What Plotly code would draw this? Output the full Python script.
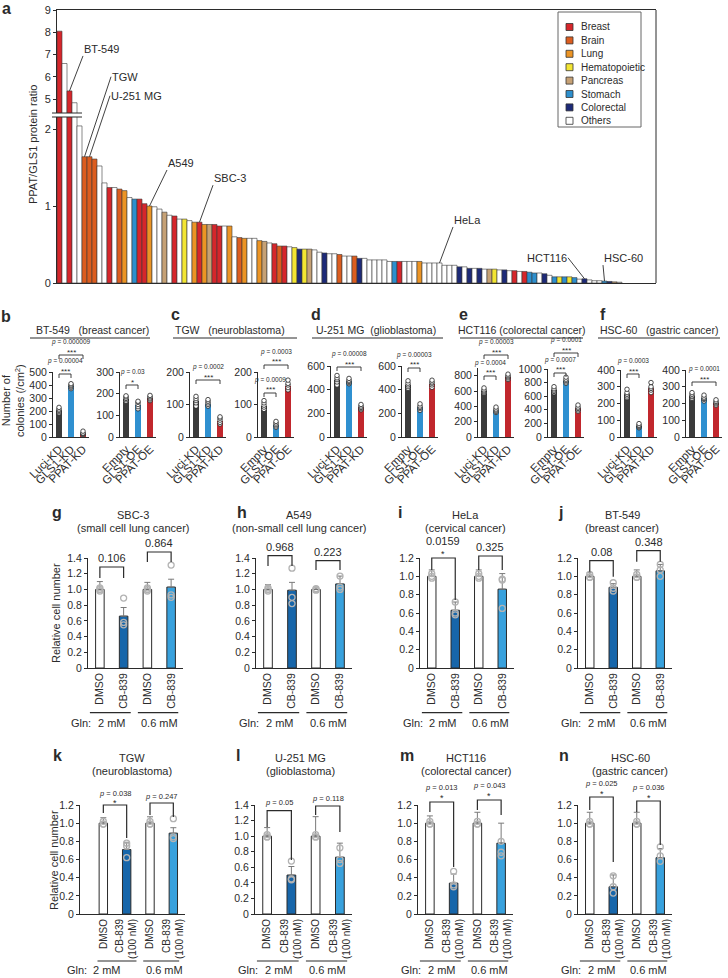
import plotly.graph_objects as go

W, H = 728, 978
FONT = "Liberation Sans, Arial, Helvetica, sans-serif"
INK = "#2b2b2b"
NB = "\u00a0"

# ======================= DATA =======================
# ---- panel a: PPAT/GLS1 ratio per cell line (sorted) ----
tissue_colors = {
    "Breast": "#d6262b", "Brain": "#dc5d1f", "Lung": "#ec9424", "Hematopoietic": "#f3e533",
    "Pancreas": "#c6a175", "Stomach": "#2d8fcd", "Colorectal": "#1d2a78", "Others": "#ffffff"}
legend_order = ["Breast", "Brain", "Lung", "Hematopoietic", "Pancreas", "Stomach", "Colorectal", "Others"]
code_name = {"Br": "Breast", "Bn": "Brain", "Lu": "Lung", "He": "Hematopoietic",
             "Pa": "Pancreas", "St": "Stomach", "Co": "Colorectal", "O": "Others"}
a_tissue = ["Br", "O", "Br", "O", "O", "Bn", "Bn", "Bn", "O", "O",
            "Br", "O", "Bn", "Lu", "O", "St", "Br", "Br", "Lu", "O",
            "O", "Pa", "O", "Br", "O", "He", "O", "Lu", "Br", "Lu",
            "Pa", "Br", "Br", "O", "Lu", "O", "Bn", "Lu", "O", "O",
            "Lu", "Pa", "O", "Br", "Bn", "Br", "O", "He", "Co", "He",
            "Pa", "O", "O", "Co", "O", "O", "Bn", "O", "O", "Bn",
            "Co", "O", "O", "O", "O", "O", "O", "St", "Br", "O",
            "O", "O", "Lu", "O", "O", "O", "O", "O", "O", "O",
            "Co", "O", "Co", "O", "Co", "O", "Pa", "He", "O", "Co",
            "O", "Br", "O", "Br", "St", "St", "O", "Co", "O", "St",
            "He", "St", "He", "St", "O", "Co", "O", "O", "O", "St",
            "Co", "Pa", "O"]
a_ratio = [8.05, 6.6, 5.37, 4.84, 2.04, 1.64, 1.64, 1.61, 1.52, 1.30,
           1.24, 1.24, 1.22, 1.20, 1.11, 1.09, 1.09, 1.03, 1.00, 0.99,
           0.96, 0.92, 0.88, 0.87, 0.83, 0.83, 0.81, 0.79, 0.79, 0.76,
           0.76, 0.76, 0.74, 0.74, 0.74, 0.60, 0.59, 0.58, 0.58, 0.58,
           0.55, 0.54, 0.52, 0.51, 0.48, 0.48, 0.47, 0.46, 0.44, 0.44,
           0.44, 0.43, 0.40, 0.39, 0.38, 0.38, 0.37, 0.35, 0.35, 0.35,
           0.32, 0.32, 0.30, 0.30, 0.30, 0.30, 0.28, 0.28, 0.28, 0.28,
           0.28, 0.28, 0.28, 0.26, 0.26, 0.26, 0.26, 0.23, 0.23, 0.23,
           0.21, 0.21, 0.19, 0.19, 0.19, 0.18, 0.18, 0.18, 0.17, 0.17,
           0.16, 0.16, 0.15, 0.15, 0.14, 0.13, 0.13, 0.12, 0.10, 0.08,
           0.08, 0.08, 0.08, 0.07, 0.05, 0.055, 0.04, 0.03, 0.03, 0.025,
           0.02, 0.015, 0.01]
a_callout_names = ["BT-549", "TGW", "U-251 MG", "A549", "SBC-3", "HeLa", "HCT116", "HSC-60"]
a_callout_index = [2, 5, 6, 18, 28, 76, 105, 109]
a_low_ticks = [0, 1, 2]
a_high_ticks = [5, 6, 7, 8, 9]

# ---- panels b-f: colony numbers ----
kd_labels = ["Luci-KD", "GLS1-KD", "PPAT-KD"]
oe_labels = ["Empty", "GLS1-OE", "PPAT-OE"]
b_kd_mean = [205, 390, 25];  b_kd_sd = [18, 15, 6]
b_kd_pts = [[185, 195, 205, 215, 228], [372, 383, 392, 400, 410], [18, 22, 26, 30, 45]]
b_oe_mean = [175, 148, 178]; b_oe_sd = [10, 12, 10]
b_oe_pts = [[165, 172, 178, 185, 190], [130, 140, 150, 160, 165], [168, 175, 180, 186, 192]]
c_kd_mean = [110, 103, 50];  c_kd_sd = [12, 8, 8]
c_kd_pts = [[95, 105, 112, 118, 125], [95, 100, 105, 110, 115], [40, 45, 52, 58, 62]]
c_oe_mean = [96, 38, 158];   c_oe_sd = [10, 6, 12]
c_oe_pts = [[85, 92, 98, 105, 112], [30, 34, 38, 43, 48], [145, 152, 160, 165, 175]]
d_kd_mean = [480, 470, 250]; d_kd_sd = [30, 20, 20]
d_kd_pts = [[440, 465, 485, 500, 520], [450, 460, 470, 480, 495], [230, 240, 250, 262, 275]]
d_oe_mean = [440, 250, 450]; d_oe_sd = [30, 25, 25]
d_oe_pts = [[410, 425, 440, 455, 475], [225, 240, 250, 262, 280], [420, 440, 455, 465, 480]]
e_kd_mean = [600, 350, 780]; e_kd_sd = [30, 25, 30]
e_kd_pts = [[570, 585, 600, 615, 640], [320, 335, 350, 365, 390], [750, 770, 785, 800, 820]]
e_oe_mean = [690, 830, 420]; e_oe_sd = [40, 40, 40]
e_oe_pts = [[650, 670, 690, 710, 740], [790, 810, 830, 850, 880], [380, 400, 420, 440, 470]]
f_kd_mean = [255, 65, 290];  f_kd_sd = [20, 8, 25]
f_kd_pts = [[235, 245, 255, 265, 285], [55, 60, 65, 70, 80], [265, 280, 290, 300, 325]]
f_oe_mean = [245, 230, 205]; f_oe_sd = [15, 15, 15]
f_oe_pts = [[230, 240, 245, 255, 265], [215, 225, 230, 238, 250], [190, 198, 205, 212, 222]]
colony_ymax = [500, 300, 200, 200, 600, 600, 900, 1000, 400, 400]
colony_ticks = [[0, 100, 200, 300, 400, 500], [0, 100, 200, 300], [0, 100, 200], [0, 100, 200],
                [0, 200, 400, 600], [0, 200, 400, 600], [0, 200, 400, 600, 800],
                [0, 200, 400, 600, 800, 1000], [0, 100, 200, 300, 400], [0, 100, 200, 300, 400]]
colony_titles = ["BT-549" + NB * 3 + "(breast cancer)", "TGW" + NB * 3 + "(neuroblastoma)",
                 "U-251 MG" + NB * 2 + "(glioblastoma)", "HCT116 (colorectal cancer)",
                 "HSC-60" + NB * 3 + "(gastric cancer)"]
# (subplot, i0, i1, p text, stars)
colony_sig = [(0, 0, 2, "0.000009", "***"), (0, 0, 1, "0.00004", "***"), (1, 0, 1, "0.03", "*"),
              (2, 0, 2, "0.0002", "***"), (3, 0, 2, "0.0003", "***"), (3, 0, 1, "0.0009", "***"),
              (4, 0, 2, "0.00008", "***"), (5, 0, 1, "0.00003", "***"),
              (6, 0, 2, "0.00003", "***"), (6, 0, 1, "0.0004", "***"),
              (7, 0, 2, "0.0001", "***"), (7, 0, 1, "0.0007", "***"),
              (8, 0, 1, "0.0003", "***"), (9, 0, 2, "0.0001", "***")]

# ---- panels g-n: relative cell number ----
cb_labels = ["DMSO", "CB-839", "DMSO", "CB-839"]
cb100_labels = ["DMSO", "CB-839<br>(100 nM)", "DMSO", "CB-839<br>(100 nM)"]
rel_ticks = [0, 0.2, 0.4, 0.6, 0.8, 1.0, 1.2, 1.4]
rel_ticktext = ["0", "0.2", "0.4", "0.6", "0.8", "1.0", "1.2", "1.4"]
g_mean = [1.0, 0.66, 1.0, 1.03]; g_sd = [0.10, 0.11, 0.09, 0.10]
g_pts = [[1.02, 0.98, 1.0], [0.89, 0.58, 0.55], [1.02, 0.98, 1.0], [1.31, 0.93, 0.90]]
h_mean = [1.0, 0.99, 1.0, 1.07]; h_sd = [0.06, 0.10, 0.02, 0.10]
h_pts = [[1.02, 0.98, 1.0], [1.27, 0.90, 0.82], [1.01, 0.99, 1.0], [1.17, 1.03, 1.0]]
i_mean = [1.0, 0.63, 1.0, 0.86]; i_sd = [0.07, 0.09, 0.07, 0.17]
i_pts = [[1.03, 0.98, 1.0], [0.72, 0.60, 0.58], [1.03, 0.98, 1.0], [0.96, 0.97, 0.65]]
j_mean = [1.0, 0.88, 1.0, 1.06]; j_sd = [0.04, 0.04, 0.07, 0.07]
j_pts = [[1.02, 0.99, 0.99], [0.93, 0.87, 0.84], [1.02, 0.99, 0.99], [1.13, 1.07, 1.0]]
k_mean = [1.0, 0.71, 1.0, 0.89]; k_sd = [0.06, 0.08, 0.07, 0.06]
k_pts = [[1.02, 0.99, 0.99], [0.78, 0.75, 0.62], [1.02, 0.99, 0.99], [1.05, 0.85, 0.83]]
l_mean = [1.0, 0.50, 1.0, 0.73]; l_sd = [0.11, 0.11, 0.25, 0.18]
l_pts = [[1.02, 0.99, 0.99], [0.68, 0.45, 0.44], [1.02, 0.99, 0.99], [0.85, 0.70, 0.65]]
m_mean = [1.0, 0.34, 1.0, 0.78]; m_sd = [0.08, 0.10, 0.12, 0.22]
m_pts = [[1.02, 0.99, 0.99], [0.47, 0.32, 0.30], [1.02, 0.99, 0.99], [0.80, 0.68, 0.64]]
n_mean = [1.0, 0.30, 1.0, 0.62]; n_sd = [0.12, 0.13, 0.12, 0.10]
n_pts = [[1.02, 0.99, 0.99], [0.42, 0.30, 0.23], [1.02, 0.99, 0.99], [0.74, 0.64, 0.58]]
cell_titles = [("SBC-3", "(small cell lung cancer)"), ("A549", "(non-small cell lung cancer)"),
               ("HeLa", "(cervical cancer)"), ("BT-549", "(breast cancer)"),
               ("TGW", "(neuroblastoma)"), ("U-251 MG", "(glioblastoma)"),
               ("HCT116", "(colorectal cancer)"), ("HSC-60", "(gastric cancer)")]
cell_ymax = [1.4, 1.4, 1.2, 1.2, 1.2, 1.4, 1.2, 1.2]
cell_p_g = [("0.106", "0.864"), ("0.968", "0.223"), ("0.0159", "0.325"), ("0.08", "0.348")]
cell_p_k = [("0.038", "0.247"), ("0.05", "0.118"), ("0.013", "0.043"), ("0.025", "0.036")]
cell_star_g = [("", ""), ("", ""), ("*", ""), ("", "")]
cell_star_k = [("*", ""), ("", ""), ("*", "*"), ("*", "*")]

# ======================= FIGURE =======================
layout = dict(width=W, height=H, margin=dict(l=0, r=0, t=0, b=0), template="none",
              paper_bgcolor="white", plot_bgcolor="rgba(0,0,0,0)", showlegend=False,
              hovermode=False, font=dict(family=FONT, size=11, color=INK), bargap=0)
traces, shapes, annots = [], [], []
n_ax = [0]


def add_axes(x0, x1, ytop, ybot, xr, yr, xkw=None, ykw=None):
    n_ax[0] += 1
    s = "" if n_ax[0] == 1 else str(n_ax[0])
    xa = dict(domain=[x0 / W, x1 / W], range=xr, anchor="y" + s, showgrid=False, zeroline=False,
              showline=True, linecolor=INK, linewidth=1, ticks="", showticklabels=False,
              fixedrange=True, automargin=False)
    ya = dict(domain=[1 - ybot / H, 1 - ytop / H], range=yr, anchor="x" + s, showgrid=False,
              zeroline=False, showline=True, linecolor=INK, linewidth=1, ticks="outside",
              ticklen=3, tickwidth=1, tickcolor=INK, tickfont=dict(size=11, color=INK, family=FONT),
              fixedrange=True, automargin=False)
    if xkw:
        xa.update(xkw)
    if ykw:
        ya.update(ykw)
    layout["xaxis" + s] = xa
    layout["yaxis" + s] = ya
    return "x" + s, "y" + s


def ann(**kw):
    d = dict(showarrow=False, xanchor="center", yanchor="middle")
    d.update(kw)
    annots.append(d)


def text(px, py, s, size=11, **kw):
    ann(x=px / W, y=1 - py / H, xref="paper", yref="paper", text=s,
        font=dict(size=size, color=INK, family=FONT), **kw)


def pline(x0, y0, x1, y1, width=1, color=INK):
    shapes.append(dict(type="line", xref="paper", yref="paper", x0=x0 / W, x1=x1 / W,
                       y0=1 - y0 / H, y1=1 - y1 / H, line=dict(color=color, width=width)))


def bracket(xa, i0, i1, ybar, yl0, yl1, width=1):
    path = "M {},{} L {},{} L {},{} L {},{}".format(i0, 1 - yl0 / H, i0, 1 - ybar / H,
                                                  i1, 1 - ybar / H, i1, 1 - yl1 / H)
    shapes.append(dict(type="path", xref=xa, yref="paper", path=path,
                       line=dict(color=INK, width=width)))


def letter(px, py, s):
    text(px, py, "<b>" + s + "</b>", size=16)


# ---------------- panel a ----------------
a_x = list(range(len(a_ratio)))
a_cols = [tissue_colors[code_name[c]] for c in a_tissue]
A_X0, A_X1 = 57, 656
a_xr = [-0.5, 119.3]
xa_lo, ya_lo = add_axes(A_X0, A_X1, 117, 283, a_xr, [0, 2.156],
                        ykw=dict(tickvals=a_low_ticks))
xa_hi, ya_hi = add_axes(A_X0, A_X1, 10, 113, a_xr, [4.38, 9],
                        xkw=dict(side="top"), ykw=dict(tickvals=a_high_ticks))
for xa, ya in [(xa_lo, ya_lo), (xa_hi, ya_hi)]:
    traces.append(go.Bar(x=a_x, y=a_ratio, xaxis=xa, yaxis=ya, width=1.0,
                         marker=dict(color=a_cols, line=dict(color="#3a3a3a", width=0.6))))
pline(A_X1, 10, A_X1, 283)
pline(52, 113, 82, 113)
pline(52, 117, 82, 117)
letter(6, 9, "a")
text(33, 145, "PPAT/GLS1 protein ratio", size=11, textangle=-90)

# callouts: arrow tail offset (px) from bar top, and which corner of the label sits at the tail
callout_dx = [13.5, 26.5, 20.5, 17.5, 13.5, 13.5, -16.5, -1.5]
callout_dy = [-35, -80, -61, -36, -37, -36, -21, -16]
callout_anchor = [("left", "bottom"), ("left", "middle"), ("left", "middle"), ("left", "bottom"),
                  ("left", "bottom"), ("left", "bottom"), ("right", "middle"), ("left", "bottom")]
for name, idx, dx, dy, (xan, yan) in zip(a_callout_names, a_callout_index, callout_dx, callout_dy,
                                         callout_anchor):
    v = a_ratio[idx]
    xa, ya = (xa_hi, ya_hi) if v > 4 else (xa_lo, ya_lo)
    annots.append(dict(x=idx, y=v, xref=xa, yref=ya, text=name, showarrow=True, arrowhead=0,
                       arrowwidth=0.9, arrowcolor=INK, ax=dx, ay=dy, standoff=0, startstandoff=0,
                       xanchor=xan, yanchor=yan, borderpad=0,
                       font=dict(size=11, color=INK, family=FONT)))

# legend box
shapes.append(dict(type="rect", xref="paper", yref="paper", x0=558 / W, x1=641 / W,
                   y0=1 - 127 / H, y1=1 - 12 / H, line=dict(color="#666", width=1), fillcolor="white"))
for k, nm in enumerate(legend_order):
    yy = 27 + 13.4 * k
    shapes.append(dict(type="rect", xref="paper", yref="paper", x0=566 / W, x1=573 / W,
                       y0=1 - (yy + 3.5) / H, y1=1 - (yy - 3.5) / H,
                       line=dict(color="#333", width=0.8), fillcolor=tissue_colors[nm]))
    text(579, yy, nm, size=10, xanchor="left")

# ---------------- panels b-f ----------------
colony_axis_x = [53, 120, 190, 258, 331, 402, 478, 548, 621, 686]
colony_top = [372, 372, 372, 372, 366, 366, 368, 369, 370, 370]
colony_data = [(b_kd_mean, b_kd_sd, b_kd_pts, kd_labels), (b_oe_mean, b_oe_sd, b_oe_pts, oe_labels),
               (c_kd_mean, c_kd_sd, c_kd_pts, kd_labels), (c_oe_mean, c_oe_sd, c_oe_pts, oe_labels),
               (d_kd_mean, d_kd_sd, d_kd_pts, kd_labels), (d_oe_mean, d_oe_sd, d_oe_pts, oe_labels),
               (e_kd_mean, e_kd_sd, e_kd_pts, kd_labels), (e_oe_mean, e_oe_sd, e_oe_pts, oe_labels),
               (f_kd_mean, f_kd_sd, f_kd_pts, kd_labels), (f_oe_mean, f_oe_sd, f_oe_pts, oe_labels)]
colony_colors = ["#3b3b3b", "#2f90d0", "#c1272d"]
colony_axes = []
for k, (mean, sd, pts, labels) in enumerate(colony_data):
    ax0 = colony_axis_x[k]
    xa, ya = add_axes(ax0, ax0 + 36, colony_top[k], 437, [-0.5, 2.5], [0, colony_ymax[k]],
                      xkw=dict(tickvals=[0, 1, 2], ticktext=labels, showticklabels=True,
                               tickangle=-45, tickfont=dict(size=11.5, color=INK, family=FONT)),
                      ykw=dict(tickvals=colony_ticks[k], tickfont=dict(size=10.5, color=INK, family=FONT)))
    colony_axes.append((xa, ya))
    traces.append(go.Bar(x=[0, 1, 2], y=mean, xaxis=xa, yaxis=ya, width=0.5,
                         marker=dict(color=colony_colors, line=dict(width=0)),
                         error_y=dict(type="data", array=sd, arrayminus=[0, 0, 0], symmetric=False,
                                      thickness=0.8, width=2, color=INK)))
    px_, py_ = [], []
    for i, p in enumerate(pts):
        px_ += [i] * len(p)
        py_ += p
    traces.append(go.Scatter(x=px_, y=py_, xaxis=xa, yaxis=ya, mode="markers",
                             marker=dict(symbol="circle", size=4.5, color="white",
                                         line=dict(color="#222", width=0.8))))

# significance bracket line heights (px); stars and p text stacked above
colony_sig_line = [355, 374, 385, 380, 365, 393, 367, 368, 355, 376, 353, 373, 374, 382]
for (sp, i0, i1, ptxt, stars), yb in zip(colony_sig, colony_sig_line):
    xa, ya = colony_axes[sp]
    bracket(xa, i0, i1, yb, yb + 4, yb + 4, width=0.9)
    ann(x=(i0 + i1) / 2, y=1 - (yb - 3) / H, xref=xa, yref="paper", text=stars,
        font=dict(size=8, color=INK, family=FONT))
    ann(x=(i0 + i1) / 2, y=1 - (yb - 13) / H, xref=xa, yref="paper", text="<i>p</i> = " + ptxt,
        font=dict(size=6.5, color=INK, family=FONT))

colony_letters = [(6, 316, "b"), (175, 315, "c"), (316, 314, "d"), (463, 314, "e"), (603, 314, "f")]
colony_title_x = [92, 230, 376, 522, 659]
colony_ul = [(30, 150), (173, 297), (312, 443), (460, 583), (598, 720)]
for (lx, ly, s), tx, (u0, u1), title in zip(colony_letters, colony_title_x, colony_ul, colony_titles):
    letter(lx, ly, s)
    text(tx, 330, title, size=10.5)
    pline(u0, 338, u1, 338)
text(13, 401, "Number of<br>colonies (/cm<sup>2</sup>)", size=11, textangle=-90)

# ---------------- panels g-n ----------------
cell_data = [(g_mean, g_sd, g_pts), (h_mean, h_sd, h_pts), (i_mean, i_sd, i_pts), (j_mean, j_sd, j_pts),
             (k_mean, k_sd, k_pts), (l_mean, l_sd, l_pts), (m_mean, m_sd, m_pts), (n_mean, n_sd, n_pts)]
cell_dom = [(88, 183), (256, 352), (420, 514), (578, 672), (80, 185), (255, 352), (418, 513), (578, 672)]
cell_xr = [[-0.5, 3.5]] * 4 + [[-1.0, 3.5], [-0.5, 3.5], [-0.5, 3.5], [-0.5, 3.5]]
cell_row_y = [(558, 668)] * 4 + [(805, 914)] * 4
cell_colors = ["white", "#1766aa", "white", "#38a1dd"]
cell_letters = [(57, 512, "g"), (242, 512, "h"), (400, 512, "i"), (560, 512, "j"),
                (57, 755, "k"), (238, 755, "l"), (407, 755, "m"), (564, 755, "n")]
cell_title_x = [133, 299, 466, 622, 132, 300, 466, 630]
cell_axes = []
for k, (mean, sd, pts) in enumerate(cell_data):
    d0, d1 = cell_dom[k]
    yt, yb = cell_row_y[k]
    ymax = cell_ymax[k]
    tv = [t for t in rel_ticks if t <= ymax + 1e-9]
    tt = rel_ticktext[:len(tv)]
    labels = cb_labels if k < 4 else cb100_labels
    xa, ya = add_axes(d0, d1, yt, yb, cell_xr[k], [0, ymax],
                      xkw=dict(tickvals=[0, 1, 2, 3], ticktext=labels, showticklabels=True,
                               tickangle=-90, tickfont=dict(size=10.5 if k < 4 else 10, color=INK,
                                                            family=FONT)),
                      ykw=dict(tickvals=tv, ticktext=tt, tickfont=dict(size=10.5, color=INK, family=FONT)))
    cell_axes.append((xa, ya))
    traces.append(go.Bar(x=[0, 1, 2, 3], y=mean, xaxis=xa, yaxis=ya, width=0.36,
                         marker=dict(color=cell_colors, line=dict(color=INK, width=1)),
                         error_y=dict(type="data", array=sd, arrayminus=[0, 0, 0, 0], symmetric=False,
                                      thickness=1, width=3, color="#7a7a7a")))
    px_, py_ = [], []
    for i, p in enumerate(pts):
        px_ += [i] * len(p)
        py_ += p
    traces.append(go.Scatter(x=px_, y=py_, xaxis=xa, yaxis=ya, mode="markers",
                             marker=dict(symbol="circle-open", size=6, color="#b3b3b3",
                                         line=dict(width=1.3))))
    lx, ly, s = cell_letters[k]
    letter(lx, ly, s)
    t1, t2 = cell_titles[k]
    text(cell_title_x[k], ly + 3, t1, size=11)
    text(cell_title_x[k], ly + 16, t2, size=11)

# Gln group labels (x in data units of each subplot)
gln_std = dict(ul=[(-0.42, 1.3), (1.6, 3.3)], txt=[0.5, 2.5], gln=-0.8)
gln_k = dict(ul=[(-0.25, 1.42), (1.71, 3.25)], txt=[0.15, 2.6], gln=-1.15)
for k, (xa, ya) in enumerate(cell_axes):
    cfg = gln_k if k == 4 else gln_std
    yul = 712.7 if k < 4 else 961
    ytx = 722.7 if k < 4 else 970
    for (u0, u1) in cfg["ul"]:
        shapes.append(dict(type="line", xref=xa, yref="paper", x0=u0, x1=u1,
                           y0=1 - yul / H, y1=1 - yul / H, line=dict(color=INK, width=1.2)))
    for xv, s in zip(cfg["txt"], ["2 mM", "0.6 mM"]):
        ann(x=xv, y=1 - ytx / H, xref=xa, yref="paper", text=s,
            font=dict(size=11, color=INK, family=FONT))
    d0, d1 = cell_dom[k]
    xr0, xr1 = cell_xr[k]
    gpx = d0 + (cfg["gln"] - xr0) / (xr1 - xr0) * (d1 - d0)
    text(gpx, ytx, "Gln:", size=11)

text(56, 613, "Relative cell number", size=11, textangle=-90)
text(54, 860, "Relative cell number", size=11, textangle=-90)

# brackets g-j: (bar y, left leg end, right leg end, text y) for pair (0,1) and (2,3)
g_br = [((567, 578, 578, 558), (552, 562, 562, 543)),
        ((555.7, 566, 566, 547), (560.7, 570, 570, 552)),
        ((558, 570, 600, 541), (556, 570, 570, 547)),
        ((560.7, 571.7, 576.7, 552), (550.7, 561.7, 561.7, 542))]
for k in range(4):
    xa, ya = cell_axes[k]
    for j, (i0, i1) in enumerate([(0, 1), (2, 3)]):
        yb, l0, l1, yt = g_br[k][j]
        bracket(xa, i0, i1, yb, l0, l1, width=1.2)
        ann(x=(i0 + i1) / 2, y=1 - yt / H, xref=xa, yref="paper", text=cell_p_g[k][j],
            font=dict(size=11, color=INK, family=FONT))
        if cell_star_g[k][j]:
            ann(x=(i0 + i1) / 2, y=1 - (yb - 4) / H, xref=xa, yref="paper",
                text=cell_star_g[k][j], font=dict(size=9, color=INK, family=FONT))

# brackets k-n: (bar y, left leg, right leg, p y, star y)
k_br = [((805, 813, 838, 793, 802), (803, 815, 817, 796, 0)),
        ((810.7, 827, 860, 802, 0), (806, 815, 832, 798, 0)),
        ((802, 812, 867, 787, 797), (800, 810, 815, 785, 795)),
        ((797, 810, 862, 783, 793), (801, 812, 845, 787, 797))]
for k in range(4):
    xa, ya = cell_axes[4 + k]
    for j, (i0, i1) in enumerate([(0, 1), (2, 3)]):
        yb, l0, l1, yp, ys = k_br[k][j]
        bracket(xa, i0, i1, yb, l0, l1, width=1.2)
        ann(x=(i0 + i1) / 2, y=1 - yp / H, xref=xa, yref="paper",
            text="<i>p</i> = " + cell_p_k[k][j], font=dict(size=7.5, color=INK, family=FONT))
        if cell_star_k[k][j]:
            ann(x=(i0 + i1) / 2, y=1 - (ys + 1) / H, xref=xa, yref="paper",
                text=cell_star_k[k][j], font=dict(size=9, color=INK, family=FONT))

layout["shapes"] = shapes
layout["annotations"] = annots
fig = go.Figure(data=traces, layout=layout)
fig.write_html("out.html", config={"displayModeBar": False, "staticPlot": True},
               post_script="document.body.style.margin='0px';")
